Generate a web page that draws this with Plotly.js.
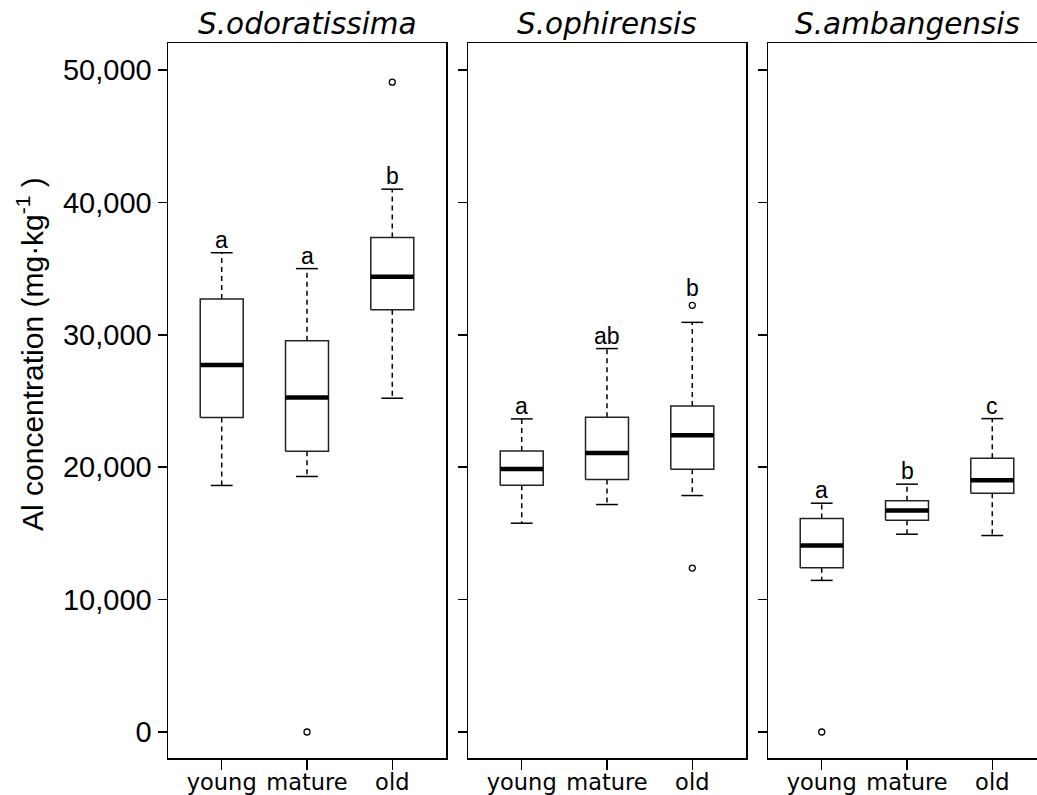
<!DOCTYPE html>
<html>
<head>
<meta charset="utf-8">
<script src="https://cdn.plot.ly/plotly-3.0.1.min.js"></script>
<style>
html,body{margin:0;padding:0;overflow:hidden;background:#fff;}
#chart{width:1060px;height:795px;}
</style>
</head>
<body>
<div id="chart"></div>
<script>
// ---- data ----
var categories = ['young', 'mature', 'old'];
var species = ['S.odoratissima', 'S.ophirensis', 'S.ambangensis'];

var odoLower   = [18620, 19300, 25210];
var odoQ1      = [23750, 21210, 31900];
var odoMedian  = [27720, 25260, 34390];
var odoQ3      = [32700, 29560, 37340];
var odoUpper   = [36200, 35000, 41000];
var odoOutliers = [[], [0], [49080]];
var odoLetters = ['a', 'a', 'b'];

var ophLower   = [15770, 17180, 17860];
var ophQ1      = [18640, 19070, 19850];
var ophMedian  = [19870, 21080, 22420];
var ophQ3      = [21230, 23770, 24630];
var ophUpper   = [23650, 28960, 30940];
var ophOutliers = [[], [], [32230, 12380]];
var ophLetters = ['a', 'ab', 'b'];

var ambLower   = [11450, 14940, 14840];
var ambQ1      = [12400, 16000, 18040];
var ambMedian  = [14090, 16730, 19020];
var ambQ3      = [16130, 17460, 20680];
var ambUpper   = [17280, 18720, 23670];
var ambOutliers = [[0], [], []];
var ambLetters = ['a', 'b', 'c'];

var yTickVals = [0, 10000, 20000, 30000, 40000, 50000];

var panels = [
  {lo: odoLower, q1: odoQ1, med: odoMedian, q3: odoQ3, hi: odoUpper, out: odoOutliers, let: odoLetters},
  {lo: ophLower, q1: ophQ1, med: ophMedian, q3: ophQ3, hi: ophUpper, out: ophOutliers, let: ophLetters},
  {lo: ambLower, q1: ambQ1, med: ambMedian, q3: ambQ3, hi: ambUpper, out: ambOutliers, let: ambLetters}
];

// ---- geometry / style ----
var W = 1060, H = 795;
var panelPx = [[168, 446], [468, 746], [768, 1046]];
var plotTop = 43, plotBottom = 758;
var yRange = [-1964, 52040];
var xRange = [0.37, 3.63];
var halfBox = 0.252, halfCap = 0.128;
var lineW = 1.5;

var traces = [];
var annotations = [];

panels.forEach(function (p, k) {
  var xa = k === 0 ? 'x' : 'x' + (k + 1);
  var ya = k === 0 ? 'y' : 'y' + (k + 1);
  var bx = [], by = [], mx = [], my = [], wx = [], wy = [], cx = [], cy = [], ox = [], oy = [];
  categories.forEach(function (c, i) {
    var xc = i + 1;
    bx.push(xc - halfBox, xc + halfBox, xc + halfBox, xc - halfBox, xc - halfBox, null);
    by.push(p.q1[i], p.q1[i], p.q3[i], p.q3[i], p.q1[i], null);
    mx.push(xc - halfBox, xc + halfBox, null);
    my.push(p.med[i], p.med[i], null);
    wx.push(xc, xc, null, xc, xc, null);
    wy.push(p.q3[i], p.hi[i], null, p.q1[i], p.lo[i], null);
    cx.push(xc - halfCap, xc + halfCap, null, xc - halfCap, xc + halfCap, null);
    cy.push(p.hi[i], p.hi[i], null, p.lo[i], p.lo[i], null);
    var anchor = p.hi[i], shift = 0;
    p.out[i].forEach(function (v) {
      ox.push(xc); oy.push(v);
      if (v > anchor && v < p.hi[i] + 3000) { anchor = v; shift = 4; }
    });
    annotations.push({
      xref: xa, yref: ya, x: xc, y: anchor, yshift: shift - 2,
      text: p.let[i], showarrow: false, yanchor: 'bottom', xanchor: 'center',
      font: {family: 'Liberation Sans, Arial, sans-serif', size: 23, color: '#000'}
    });
  });
  var common = {xaxis: xa, yaxis: ya, hoverinfo: 'skip', showlegend: false, cliponaxis: false};
  traces.push(Object.assign({type: 'scatter', mode: 'lines', x: wx, y: wy,
    line: {color: '#000', width: lineW, dash: '5px,4px'}}, common));
  traces.push(Object.assign({type: 'scatter', mode: 'lines', x: cx, y: cy,
    line: {color: '#000', width: lineW}}, common));
  traces.push(Object.assign({type: 'scatter', mode: 'lines', x: bx, y: by, fill: 'toself', fillcolor: '#fff',
    line: {color: '#222', width: lineW}}, common));
  traces.push(Object.assign({type: 'scatter', mode: 'lines', x: mx, y: my,
    line: {color: '#000', width: 4.5}}, common));
  traces.push(Object.assign({type: 'scatter', mode: 'markers', x: ox, y: oy,
    marker: {symbol: 'circle-open', size: 6, color: '#000', line: {width: 1.3, color: '#000'}}}, common));

  annotations.push({
    xref: 'paper', yref: 'paper',
    x: (panelPx[k][0] + panelPx[k][1]) / 2 / W, y: 1 - 24 / H,
    text: '<i>' + species[k] + '</i>', showarrow: false, xanchor: 'center', yanchor: 'middle',
    font: {family: 'DejaVu Sans, Verdana, sans-serif', size: 29.5, color: '#000'}
  });
});

annotations.push({
  xref: 'paper', yref: 'paper', x: 30 / W, y: 1 - 354 / H,
  text: 'Al concentration (mg·kg<sup>-1</sup> )', textangle: -90, showarrow: false,
  xanchor: 'center', yanchor: 'middle',
  font: {family: 'Liberation Sans, Arial, sans-serif', size: 30, color: '#000'}
});

var layout = {
  width: W, height: H,
  margin: {l: 0, r: 0, t: 0, b: 0},
  paper_bgcolor: '#fff', plot_bgcolor: '#fff',
  showlegend: false,
  annotations: annotations
};

for (var k = 0; k < 3; k++) {
  var sfx = k === 0 ? '' : String(k + 1);
  layout['xaxis' + sfx] = {
    domain: [panelPx[k][0] / W, panelPx[k][1] / W],
    anchor: 'y' + sfx, range: xRange,
    tickmode: 'array', tickvals: [1, 2, 3], ticktext: categories,
    ticks: 'outside', ticklen: 10, tickwidth: lineW, tickcolor: '#000',
    ticklabelstandoff: -7,
    tickfont: {family: 'DejaVu Sans, Verdana, sans-serif', size: 22.5, color: '#000'},
    showline: true, mirror: true, linecolor: '#000', linewidth: lineW,
    showgrid: false, zeroline: false, fixedrange: true
  };
  layout['yaxis' + sfx] = {
    domain: [1 - plotBottom / H, 1 - plotTop / H],
    anchor: 'x' + sfx, range: yRange,
    tickmode: 'array', tickvals: yTickVals, tickformat: ',d',
    showticklabels: k === 0,
    ticks: 'outside', ticklen: 9, tickwidth: lineW, tickcolor: '#000',
    tickfont: {family: 'Liberation Sans, Arial, sans-serif', size: 29, color: '#000'},
    showline: true, mirror: true, linecolor: '#000', linewidth: lineW,
    showgrid: false, zeroline: false, fixedrange: true
  };
}

Plotly.newPlot('chart', traces, layout, {staticPlot: true, displayModeBar: false});
</script>
</body>
</html>
